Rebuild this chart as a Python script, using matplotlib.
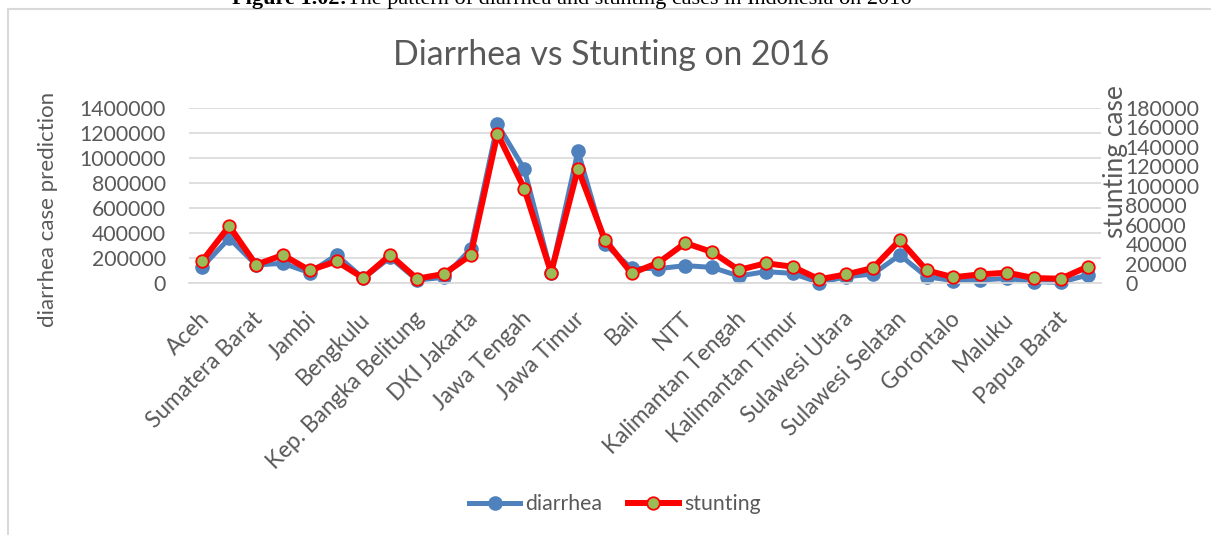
import matplotlib
matplotlib.use("Agg")
import matplotlib.pyplot as plt
from matplotlib.patches import Rectangle
from matplotlib.transforms import ScaledTranslation

provinces = ["Aceh", "Sumatera Utara", "Sumatera Barat", "Riau", "Jambi",
             "Sumatera Selatan", "Bengkulu", "Lampung", "Kep. Bangka Belitung",
             "Kep. Riau", "DKI Jakarta", "Jawa Barat", "Jawa Tengah",
             "DI Yogyakarta", "Jawa Timur", "Banten", "Bali", "NTB", "NTT",
             "Kalimantan Barat", "Kalimantan Tengah", "Kalimantan Selatan",
             "Kalimantan Timur", "Kalimantan Utara", "Sulawesi Utara",
             "Sulawesi Tengah", "Sulawesi Selatan", "Sulawesi Tenggara",
             "Gorontalo", "Sulawesi Barat", "Maluku", "Maluku Utara",
             "Papua Barat", "Papua"]

diarrhea = [130000, 358000, 145000, 157000, 83000, 224000, 37000, 205000,
            24000, 45000, 270000, 1270000, 912000, 83000, 1056000, 312000,
            117000, 115000, 139000, 125000, 56000, 91000, 77000, 3000,
            50000, 72000, 224000, 50000, 19000, 24000, 37000, 11000,
            5000, 64000]

stunting = [22900, 58600, 18800, 28800, 13000, 22300, 5100, 28800, 4400,
            9300, 28500, 153600, 97000, 10600, 117600, 44600, 10000, 20900,
            41100, 31900, 13400, 20300, 16800, 3800, 8900, 15400, 44200,
            13000, 5900, 8900, 10600, 5100, 4400, 16800]

left_ticks = list(range(0, 1400001, 200000))
right_ticks = list(range(0, 180001, 20000))

W, H = 1211, 535
gray = "#595959"
plt.rcParams["font.family"] = ["Lato", "DejaVu Sans"]

fig = plt.figure(figsize=(W / 100, H / 100), dpi=100)

# chart frame (runs off the right/bottom edge like the source)
fig.patches.append(Rectangle((8 / W, -0.05), 1.2, (H - 9) / H + 0.05,
                             transform=fig.transFigure, fill=False,
                             edgecolor="#D9D9D9", linewidth=1.5))

ax = fig.add_axes([189 / W, (H - 283) / H, 912 / W, 175 / H])
ax2 = ax.twinx()

x = list(range(len(provinces)))
l1, = ax.plot(x, diarrhea, color="#4F81BD", lw=3.6, marker="o", ms=9.5,
              mfc="#4F81BD", mec="#4F81BD", clip_on=False, label="diarrhea")
l2, = ax2.plot(x, stunting, color="#FF0000", lw=4.3, marker="o", ms=9,
               mfc="#9BBB59", mec="#FF0000", mew=1.3, clip_on=False,
               label="stunting")

ax.set_xlim(-0.5, len(provinces) - 0.5)
ax.set_ylim(0, 1400000)
ax2.set_ylim(0, 180000)
ax.set_yticks(left_ticks)
ax.set_yticklabels([str(v) for v in left_ticks])
ax2.set_yticks(right_ticks)
ax2.set_yticklabels([str(v) for v in right_ticks])
ax.grid(axis="y", color="#D9D9D9", lw=1.2)
ax.set_axisbelow(True)

for a in (ax, ax2):
    for s in a.spines.values():
        s.set_visible(False)
ax.spines["bottom"].set_visible(True)
ax.spines["bottom"].set_color("#D9D9D9")
ax.spines["bottom"].set_linewidth(1.2)

ax.tick_params(axis="y", length=0, pad=16.5, labelsize=15.3, labelcolor=gray)
ax2.tick_params(axis="y", length=0, pad=17.5, labelsize=15.3, labelcolor=gray)

ax.set_xticks(x[::2])
ax.set_xticklabels(provinces[::2], rotation=45, ha="right", va="top",
                   rotation_mode="anchor")
ax.tick_params(axis="x", length=0, pad=18, labelsize=16.3, labelcolor=gray)
shift = ScaledTranslation(-4 / 100, 0, fig.dpi_scale_trans)
for lab in ax.get_xticklabels():
    lab.set_transform(lab.get_transform() + shift)

fig.text(48 / W, 1 - 209 / H, "diarrhea case prediction", rotation=90,
         ha="center", va="center", fontsize=16, color=gray)
fig.text(1116 / W, 1 - 162 / H, "stunting case", rotation=90,
         ha="center", va="center", fontsize=19, color=gray)

fig.text(611 / W, 1 - 65 / H, "Diarrhea vs Stunting on 2016", ha="center",
         va="baseline", fontsize=24.3, color=gray)

# caption of the figure, cut off at the top of the image
fig.text(347 / W, 1 - 4 / H, "Figure 1.02:", ha="right", va="baseline",
         fontsize=16, fontweight="bold", family="Liberation Serif")
fig.text(347 / W, 1 - 4 / H, "The pattern of diarrhea and stunting cases in Indonesia on 2016",
         ha="left", va="baseline", fontsize=16, family="Liberation Serif")

fig.legend(handles=[l1, l2], loc="center", bbox_to_anchor=(615 / W, 1 - 504 / H),
           ncol=2, frameon=False, fontsize=15.3, labelcolor=gray,
           handlelength=2.4, handletextpad=0.25, columnspacing=1.2)

fig.savefig("out.png", dpi=100)
